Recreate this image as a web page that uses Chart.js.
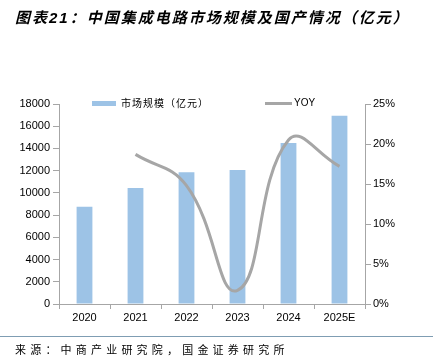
<!DOCTYPE html>
<html><head><meta charset="utf-8">
<script src="https://cdn.jsdelivr.net/npm/chart.js@4"></script>
<style>
body{margin:0;background:#fff;}
#wrap{position:relative;width:433px;height:356px;overflow:hidden;font-family:"Liberation Sans","Noto Sans CJK SC",sans-serif;}
canvas{position:absolute;left:0;top:0;}
.t{position:absolute;white-space:nowrap;}
#title{left:15px;top:6px;font-size:15px;font-weight:bold;font-style:italic;letter-spacing:2px;font-family:"Liberation Sans","Noto Sans CJK SC",sans-serif;color:#000;}
#src{left:15px;top:342px;font-size:11px;letter-spacing:4.2px;font-family:"Noto Sans CJK SC",sans-serif;color:#000;line-height:14px;}
#sep{position:absolute;left:0;top:336px;width:433px;height:1px;background:#7f9db3;}
.sw{position:absolute;}
.lg{position:absolute;font-size:10px;line-height:12px;color:#000;font-family:"Noto Sans CJK SC",sans-serif;letter-spacing:1px;}
</style></head>
<body><div id="wrap">
<canvas id="c" width="433" height="356"></canvas>
<div id="title" class="t"></div>
<div class="sw" style="left:92px;top:101px;width:24px;height:5px;background:#9dc3e6;"></div>
<div id="lg1" class="lg" style="left:121px;top:97px;"></div>
<div class="sw" style="left:265px;top:102px;width:27px;height:3px;background:#a6a6a6;"></div>
<div id="lg2" class="lg" style="left:294px;top:97px;font-family:'Liberation Sans',sans-serif;letter-spacing:0;"></div>
<div id="sep"></div>
<div id="src" class="t"></div>
</div>
<script>
const titleText = "图表21：中国集成电路市场规模及国产情况（亿元）";
const sourceText = "来源：中商产业研究院，国金证券研究所";
const categories = ["2020","2021","2022","2023","2024","2025E"];
const marketSize = [8760, 10440, 11850, 12060, 14490, 16950];
const yoy = [null, 0.187, 0.148, 0.017, 0.205, 0.172];
const barLabel = "市场规模（亿元）";
const lineLabel = "YOY";

document.getElementById('title').textContent = titleText;
document.getElementById('src').textContent = sourceText;
document.getElementById('lg1').textContent = barLabel;
document.getElementById('lg2').textContent = lineLabel;

const axisColor = '#a6a6a6';
const tickFont = {family:"Liberation Sans", size:11};

new Chart(document.getElementById('c'), {
  data: {
    labels: categories,
    datasets: [
      {type:'line', label: lineLabel, data: yoy, yAxisID:'y1', borderColor:'#a6a6a6', borderWidth:3, pointRadius:0, tension:0.45, order:0, fill:false},
      {type:'bar', label: barLabel, data: marketSize, yAxisID:'y', backgroundColor:'#9dc3e6', barPercentage:0.31, categoryPercentage:1, order:1}
    ]
  },
  options: {
    responsive:false, animation:false, devicePixelRatio:1,
    layout:{padding:{top:104,left:0,right:0,bottom:0}},
    plugins:{legend:{display:false}, title:{display:false}, tooltip:{enabled:false}},
    scales:{
      x:{
        grid:{offset:true, drawOnChartArea:false, drawTicks:true, tickLength:5, color:axisColor},
        border:{color:axisColor},
        ticks:{color:'#000', font:tickFont, padding:2, maxRotation:0},
        afterFit(s){ s.height = 52; }
      },
      y:{
        position:'left', min:0, max:18000,
        grid:{drawOnChartArea:false, drawTicks:true, tickLength:6, color:axisColor},
        border:{color:axisColor},
        ticks:{stepSize:2000, color:'#000', font:tickFont, padding:3, callback:v=>String(v)},
        afterFit(s){ s.width = 59; }
      },
      y1:{
        position:'right', min:0, max:0.25,
        grid:{drawOnChartArea:false, drawTicks:true, tickLength:6, color:axisColor},
        border:{color:axisColor},
        ticks:{stepSize:0.05, color:'#000', font:tickFont, padding:2, callback:v=>Math.round(v*100)+'%'},
        afterFit(s){ s.width = 68; }
      }
    }
  }
});
</script>
</body></html>
